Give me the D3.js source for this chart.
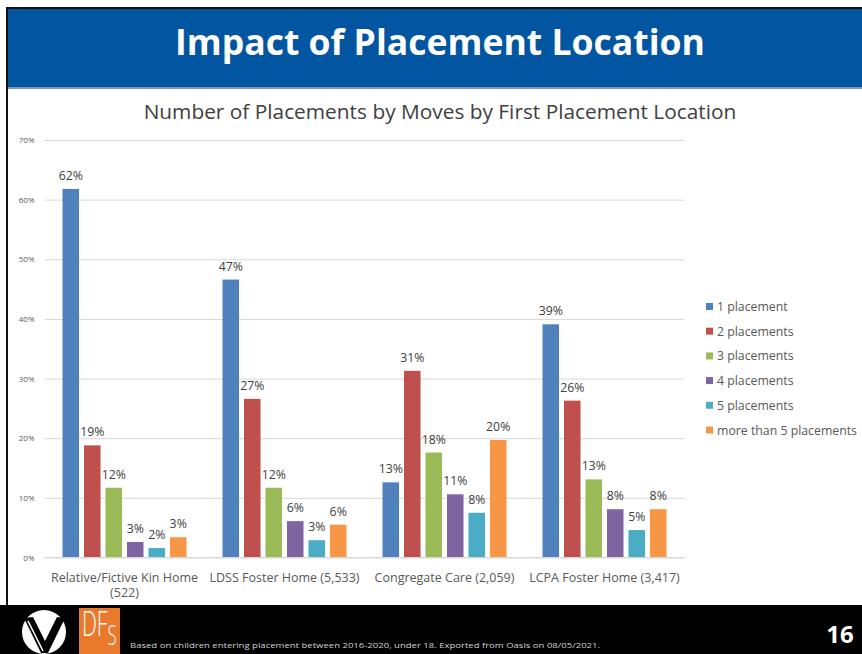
<!DOCTYPE html>
<html>
<head>
<meta charset="utf-8">
<script src="https://cdn.jsdelivr.net/npm/d3@7"></script>
<style>
  body { margin: 0; background: #fff; }
  svg { display: block; }
  text { font-family: "Open Sans", "Noto Sans", sans-serif; }
</style>
</head>
<body>
<svg id="slide" width="862" height="654"></svg>
<script>
"use strict";

// Chart data (percent of children in each first placement location)
var categories = ["Relative/Fictive Kin Home (522)", "LDSS Foster Home (5,533)",
                  "Congregate Care (2,059)", "LCPA Foster Home (3,417)"];
var series_names = ["1 placement", "2 placements", "3 placements",
                    "4 placements", "5 placements", "more than 5 placements"];
var one_placement = [61.8, 46.6, 12.6, 39.1];
var two_placements = [18.8, 26.6, 31.3, 26.3];
var three_placements = [11.7, 11.7, 17.6, 13.1];
var four_placements = [2.6, 6.1, 10.6, 8.1];
var five_placements = [1.6, 2.9, 7.5, 4.6];
var more_placements = [3.4, 5.5, 19.7, 8.1];
var y_ticks = [0, 10, 20, 30, 40, 50, 60, 70];

var colours = ["#4F81BD", "#C0504D", "#9BBB59", "#8064A2", "#4BACC6", "#F79646"];
var W = 862, H = 654;

// Break a category label onto several lines if it is too wide
function wrap_text(sel, width) {
  sel.each(function() {
    var t = d3.select(this);
    var words = t.text().split(/\s+/);
    var x = t.attr("x");
    var line = [];
    var tspan = t.text(null).append("tspan").attr("x", x).attr("dy", 0);
    words.forEach(function(w) {
      line.push(w);
      tspan.text(line.join(" "));
      if (tspan.node().getComputedTextLength() > width && line.length > 1) {
        line.pop();
        tspan.text(line.join(" "));
        line = [w];
        tspan = t.append("tspan").attr("x", x).attr("dy", "1.2em").text(w);
      }
    });
  });
}

// Shrink or grow a text's font until it spans the given width
function fit_width(sel, width) {
  var size = parseFloat(sel.style("font-size"));
  var len = sel.node().getComputedTextLength();
  sel.style("font-size", (size * width / len).toFixed(2) + "px");
}

function draw_frame(svg) {
  // header band
  svg.append("rect").attr("x", 6).attr("y", 7).attr("width", W - 6).attr("height", 2).attr("fill", "#111");
  svg.append("rect").attr("x", 8).attr("y", 9).attr("width", W - 8).attr("height", 78).attr("fill", "#0256A1");
  svg.append("rect").attr("x", 8).attr("y", 87).attr("width", W - 8).attr("height", 2).attr("fill", "#7F95B8");
  svg.append("rect").attr("x", 6).attr("y", 7).attr("width", 2).attr("height", 600).attr("fill", "#111");

  var head = svg.append("text")
    .attr("x", 440).attr("y", 55)
    .attr("text-anchor", "middle")
    .style("font-size", "36px").style("font-weight", "700")
    .attr("fill", "#fff")
    .text("Impact of Placement Location");
  fit_width(head, 530);

  // footer band
  svg.append("rect").attr("x", 0).attr("y", 605).attr("width", W).attr("height", H - 605).attr("fill", "#000");

  // V logo
  svg.append("ellipse").attr("cx", 44).attr("cy", 632).attr("rx", 22).attr("ry", 22).attr("fill", "#fff");
  svg.append("path")
    .attr("d", "M24,618 L33,617 L45,641 L57,617 L65,618 L48,653 L41,653 Z")
    .attr("fill", "#000");
  svg.append("line").attr("x1", 28).attr("y1", 621).attr("x2", 43).attr("y2", 651)
    .attr("stroke", "#fff").attr("stroke-width", 1.5);

  // DFS logo
  svg.append("rect").attr("x", 79).attr("y", 608).attr("width", 41).attr("height", 46).attr("fill", "#E9792B");
  var dfs = svg.append("text")
    .attr("transform", "translate(82,636) scale(0.62,1)")
    .attr("fill", "#fff")
    .style("font-size", "34px").style("font-weight", "300");
  dfs.append("tspan").text("DF");
  dfs.append("tspan").attr("dy", 9).style("font-size", "27px").text("S");

  var note = svg.append("text")
    .attr("x", 130).attr("y", 648)
    .attr("fill", "#d0d0d0")
    .style("font-size", "8px")
    .text("Based on children entering placement between 2016-2020, under 18. Exported from Oasis on 08/05/2021.");
  note.attr("textLength", 470).attr("lengthAdjust", "spacingAndGlyphs");

  svg.append("text")
    .attr("x", 840).attr("y", 643)
    .attr("text-anchor", "middle")
    .attr("fill", "#fff")
    .style("font-size", "24px").style("font-weight", "700")
    .text("16");
}

function draw_chart(svg) {
  var values = [one_placement, two_placements, three_placements,
                four_placements, five_placements, more_placements];

  var x0 = d3.scaleBand().domain(categories).range([44.5, 684.5]);
  var x1 = d3.scaleBand().domain(series_names).range([18, 142]).paddingInner(0.23);
  var y = d3.scaleLinear().domain([0, 70]).range([557.5, 140]);

  var title = svg.append("text")
    .attr("x", 440).attr("y", 119)
    .attr("text-anchor", "middle")
    .attr("fill", "#404040")
    .style("font-size", "19px")
    .text("Number of Placements by Moves by First Placement Location");
  fit_width(title, 593);

  // y axis: gridlines + tick labels
  var y_axis = svg.append("g")
    .attr("transform", "translate(44.5,0)")
    .call(d3.axisLeft(y).tickValues(y_ticks)
      .tickSize(-640).tickPadding(10)
      .tickFormat(function(d) { return d + "%"; }));
  y_axis.select(".domain").remove();
  y_axis.selectAll(".tick line").attr("stroke", "#D9D9D9");
  y_axis.selectAll(".tick text")
    .attr("fill", "#595959")
    .style("font-size", "8px")
    .style("font-family", "\"Open Sans\", sans-serif");

  // bars
  var groups = svg.selectAll("g.cat")
    .data(categories)
    .enter().append("g")
    .attr("class", "cat")
    .attr("transform", function(d) { return "translate(" + x0(d) + ",0)"; });

  groups.each(function(cat, ci) {
    var g = d3.select(this);
    var rows = series_names.map(function(s, si) { return { s: s, si: si, v: values[si][ci] }; });
    g.selectAll("rect")
      .data(rows)
      .enter().append("rect")
      .attr("x", function(d) { return x1(d.s); })
      .attr("y", function(d) { return y(d.v); })
      .attr("width", x1.bandwidth())
      .attr("height", function(d) { return y(0) - y(d.v); })
      .attr("fill", function(d) { return colours[d.si]; });
    g.selectAll("text.val")
      .data(rows)
      .enter().append("text")
      .attr("class", "val")
      .attr("x", function(d) { return x1(d.s) + x1.bandwidth() / 2; })
      .attr("y", function(d) { return y(d.v) - 9; })
      .attr("text-anchor", "middle")
      .attr("fill", "#404040")
      .style("font-size", "12.3px")
      .text(function(d) { return Math.round(d.v) + "%"; });
  });

  // baseline
  svg.append("line")
    .attr("x1", 44.5).attr("x2", 684.5)
    .attr("y1", y(0)).attr("y2", y(0))
    .attr("stroke", "#D9D9D9");

  // category labels
  var x_axis = svg.append("g");
  x_axis.selectAll("text")
    .data(categories)
    .enter().append("text")
    .attr("x", function(d) { return x0(d) + x0.bandwidth() / 2; })
    .attr("y", 582)
    .attr("text-anchor", "middle")
    .attr("fill", "#595959")
    .style("font-size", "12.5px")
    .text(function(d) { return d; })
    .call(wrap_text, 158);

  // legend
  var legend = svg.selectAll("g.legend")
    .data(series_names)
    .enter().append("g")
    .attr("class", "legend")
    .attr("transform", function(d, i) { return "translate(706," + (306.5 + i * 24.7) + ")"; });
  legend.append("rect")
    .attr("x", 0).attr("y", -3.5)
    .attr("width", 7).attr("height", 7)
    .attr("fill", function(d, i) { return colours[i]; });
  legend.append("text")
    .attr("x", 11).attr("y", 4.5)
    .attr("fill", "#595959")
    .style("font-size", "12.3px")
    .text(function(d) { return d; });
}

addEventListener('load', start);
function start() {
  var svg = d3.select("#slide");
  svg.append("rect").attr("width", W).attr("height", H).attr("fill", "#fff");
  draw_frame(svg);
  draw_chart(svg);
}
</script>
</body>
</html>
